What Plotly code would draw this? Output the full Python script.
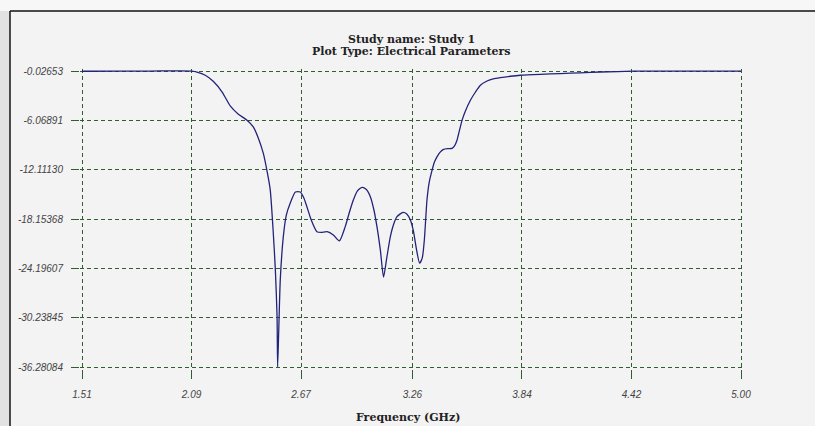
import plotly.graph_objects as go

# ---- data ----
freq_ghz = [1.510, 1.543, 1.872, 2.093, 2.119, 2.163, 2.205, 2.253, 2.296, 2.338,
            2.384, 2.417, 2.444, 2.470, 2.491, 2.507, 2.523, 2.534, 2.543, 2.546,
            2.552, 2.560, 2.576, 2.592, 2.613, 2.640, 2.666, 2.685, 2.701, 2.724,
            2.754, 2.777, 2.808, 2.841, 2.873, 2.904, 2.925, 2.947, 2.968, 2.993,
            3.016, 3.037, 3.056, 3.072, 3.090, 3.107, 3.124, 3.143, 3.159, 3.178,
            3.210, 3.230, 3.249, 3.265, 3.280, 3.298, 3.312, 3.323, 3.337, 3.349,
            3.364, 3.376, 3.390, 3.407, 3.425, 3.447, 3.470, 3.482, 3.496, 3.508,
            3.523, 3.540, 3.567, 3.593, 3.620, 3.655, 3.688, 3.725, 3.779, 3.832,
            3.937, 4.043, 4.149, 4.255, 4.430, 4.679, 5.000]
s11_db = [-0.06, -0.06, -0.03, -0.03, -0.15, -0.55, -1.29, -2.63, -4.34, -5.32,
          -6.05, -6.87, -8.25, -10.09, -12.41, -14.61, -19.86, -24.39, -30.10, -36.28,
          -31.72, -25.61, -20.35, -17.67, -16.20, -14.85, -14.85, -15.59, -16.65, -18.28,
          -19.71, -19.80, -19.71, -20.11, -20.84, -19.09, -17.42, -15.83, -14.73, -14.28,
          -14.55, -15.43, -17.05, -19.09, -21.94, -25.28, -22.92, -20.32, -18.89, -17.87,
          -17.34, -17.54, -18.28, -19.62, -21.70, -23.57, -22.92, -20.72, -15.83, -13.63,
          -12.16, -11.19, -10.54, -9.96, -9.63, -9.54, -9.51, -9.23, -8.50, -7.40,
          -6.05, -4.95, -3.61, -2.63, -1.77, -1.25, -0.98, -0.83, -0.67, -0.55,
          -0.43, -0.34, -0.25, -0.15, -0.05, -0.03, -0.03]

x_tick_vals = [1.51, 2.09, 2.67, 3.26, 3.84, 4.42, 5.00]
x_tick_text = ["1.51", "2.09", "2.67", "3.26", "3.84", "4.42", "5.00"]
y_tick_vals = [-0.02653, -6.06891, -12.11130, -18.15368, -24.19607, -30.23845, -36.28084]
y_tick_text = ["-0.02653", "-6.06891", "-12.11130", "-18.15368", "-24.19607", "-30.23845", "-36.28084"]

title_line1 = "Study name: Study 1"
title_line2 = "Plot Type: Electrical Parameters"
x_title = "Frequency (GHz)"

BG = "#f3f3f3"
GRID = "#2f5f2f"
tick_font = dict(family="Liberation Sans, Arial, sans-serif", size=10, color="#444444", style="italic")
serif_bold = dict(family="DejaVu Serif, Liberation Serif, serif", size=11, color="#222222")

# small padding so the edge gridlines are drawn inside the plotting area
x_pad = 0.0106
y_pad = 0.245

fig = go.Figure()
fig.add_trace(go.Scatter(
    x=freq_ghz, y=s11_db, mode="lines",
    line=dict(color="#23237a", width=1.3, shape="spline", smoothing=0.6),
    hoverinfo="skip", showlegend=False, cliponaxis=False,
))

fig.update_layout(
    width=815, height=426,
    margin=dict(l=80, r=72, t=69, b=57),
    paper_bgcolor=BG, plot_bgcolor=BG,
    showlegend=False,
    xaxis=dict(
        range=[x_tick_vals[0] - x_pad, x_tick_vals[-1] + x_pad],
        tickmode="array", tickvals=x_tick_vals, ticktext=x_tick_text,
        tickfont=tick_font,
        showgrid=True, gridcolor=GRID, gridwidth=1, griddash="4px,3px",
        zeroline=False, showline=False,
        ticks="outside", ticklen=9, tickcolor=GRID, tickwidth=1,
        ticklabelstandoff=7,
    ),
    yaxis=dict(
        range=[y_tick_vals[-1] - y_pad, y_tick_vals[0] + y_pad],
        tickmode="array", tickvals=y_tick_vals, ticktext=y_tick_text,
        tickfont=tick_font,
        showgrid=True, gridcolor=GRID, gridwidth=1, griddash="4px,3px",
        zeroline=False, showline=False,
        ticks="outside", ticklen=8, tickcolor=GRID, tickwidth=1,
        ticklabelstandoff=6,
    ),
    annotations=[
        dict(text="<b>" + title_line1 + "</b>", xref="paper", yref="paper",
             x=0.5, y=1.0967, xanchor="center", yanchor="middle",
             showarrow=False, font=serif_bold),
        dict(text="<b>" + title_line2 + "</b>", xref="paper", yref="paper",
             x=0.5, y=1.0583, xanchor="center", yanchor="middle",
             showarrow=False, font=serif_bold),
        dict(text="<b>" + x_title + "</b>", xref="paper", yref="paper",
             x=0.4947, y=-0.16, xanchor="center", yanchor="middle",
             showarrow=False, font=serif_bold),
    ],
    shapes=[
        # outer window frame (top and left borders)
        dict(type="rect", xref="paper", yref="paper", x0=-0.1207, x1=-0.107, y0=-0.2, y1=1.23,
             line=dict(width=0), fillcolor="#e2e2e2", layer="below"),
        dict(type="rect", xref="paper", yref="paper", x0=-0.1207, x1=1.12, y0=1.1933, y1=1.23,
             line=dict(width=0), fillcolor="#f7f7f7", layer="below"),
        dict(type="line", xref="paper", yref="paper", x0=-0.1056, x1=1.12, y0=1.1933, y1=1.1933,
             line=dict(color="#111111", width=1.5)),
        dict(type="line", xref="paper", yref="paper", x0=-0.1056, x1=-0.1056, y0=-0.2, y1=1.1933,
             line=dict(color="#111111", width=1.5)),
    ],
)

fig.write_html("out.html")
